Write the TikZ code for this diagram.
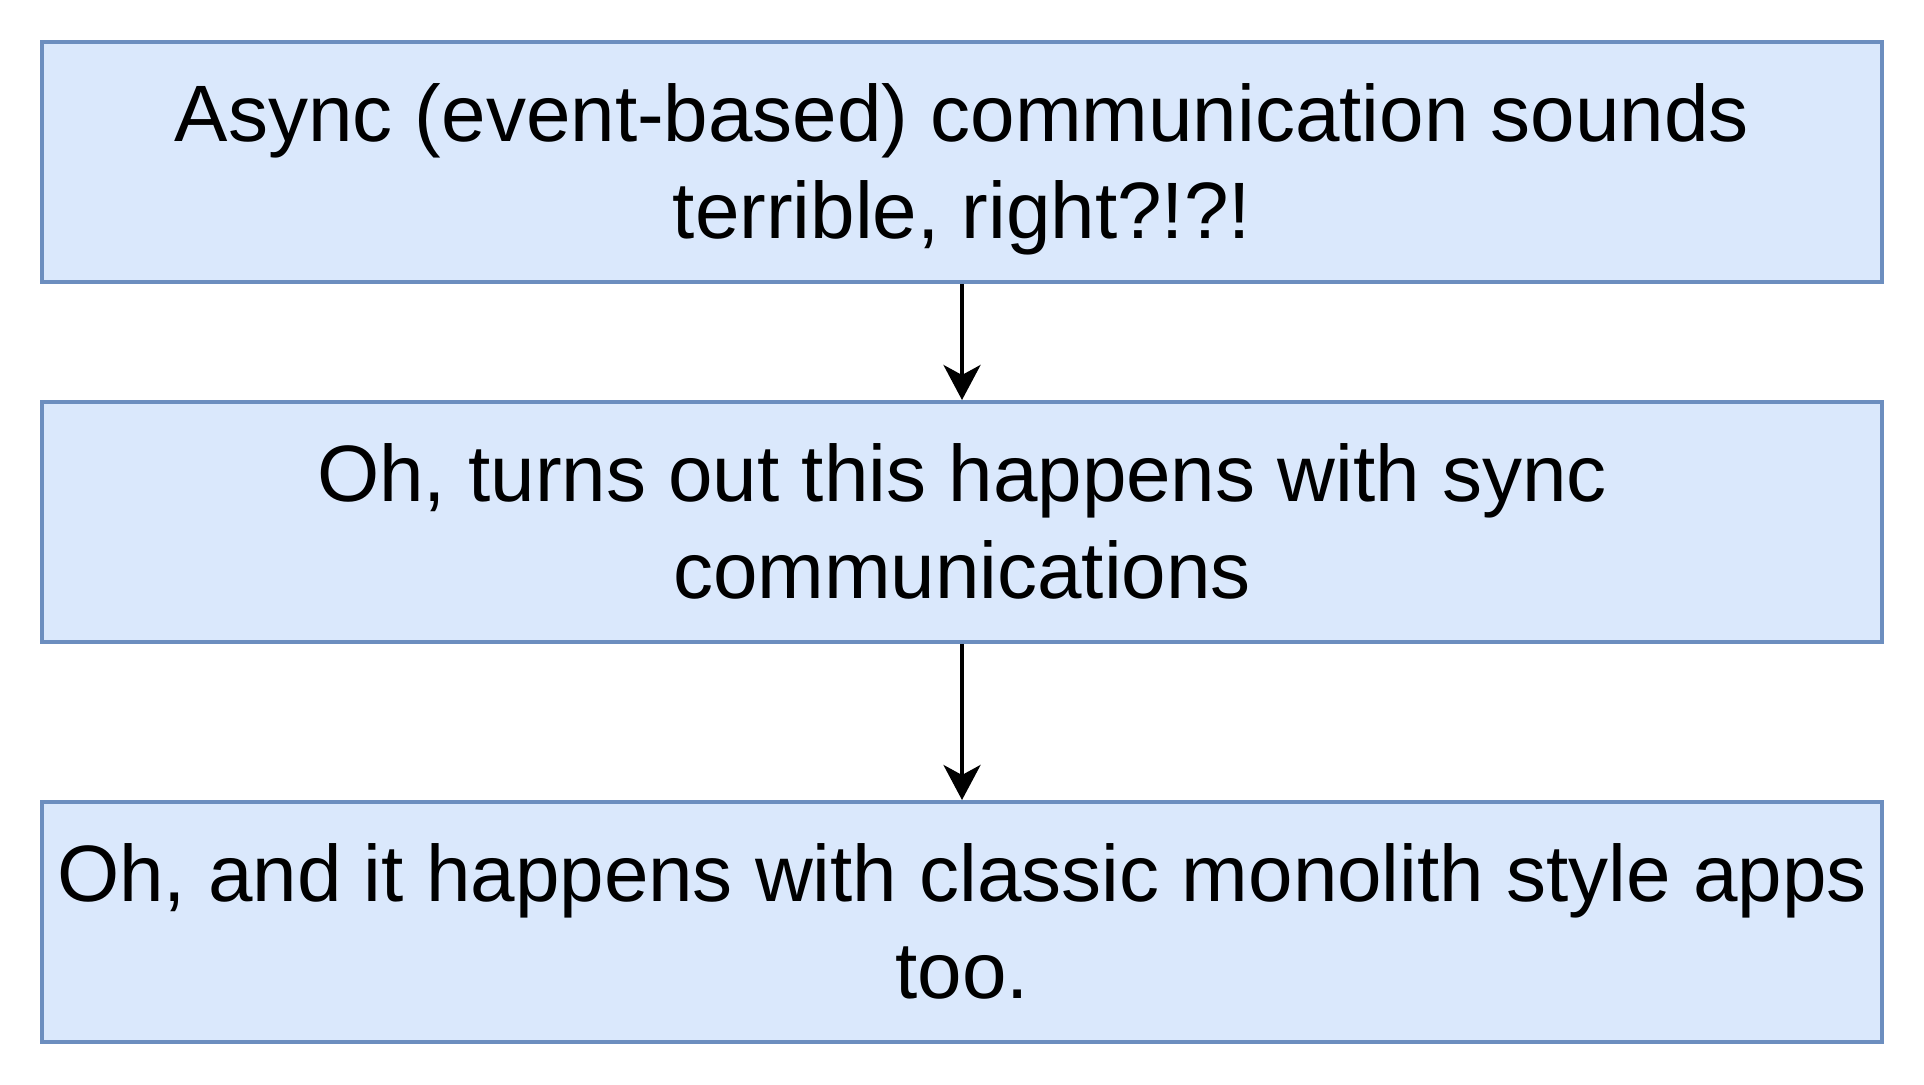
\documentclass[tikz,border=0pt]{standalone}
\usepackage{fontspec}
\setmainfont{Liberation Sans}
\usetikzlibrary{arrows.meta}
\definecolor{boxfill}{HTML}{DAE8FC}
\definecolor{boxline}{HTML}{6C8EBF}
\newcommand{\topstr}{\rule{0pt}{75pt}}
\newcommand{\botstr}{\rule[-20pt]{0pt}{20pt}}
\tikzset{
  stepbox/.style={draw=boxline, fill=boxfill, line width=4pt, minimum width=1840pt, minimum height=240pt, inner sep=0pt, align=center, font=\fontsize{80}{97}\selectfont},
  flowarrow/.style={line width=4pt, -{Stealth[length=35pt,width=37pt,inset=10pt]}}
}
\begin{document}
\begin{tikzpicture}[x=1pt,y=-1pt]
\useasboundingbox (0,0) rectangle (1924,1084);
\node[stepbox] (a) at (962,162) {\topstr Async (event-based) communication sounds\\terrible, right?!?!\botstr};
\node[stepbox] (b) at (962,522) {\topstr Oh, turns out this happens with sync\\communications\botstr};
\node[stepbox] (c) at (962,922) {\topstr Oh, and it happens with classic monolith style apps\\too.\botstr};
\draw[flowarrow] (a) -- (b);
\draw[flowarrow] (b) -- (c);
\end{tikzpicture}
\end{document}
